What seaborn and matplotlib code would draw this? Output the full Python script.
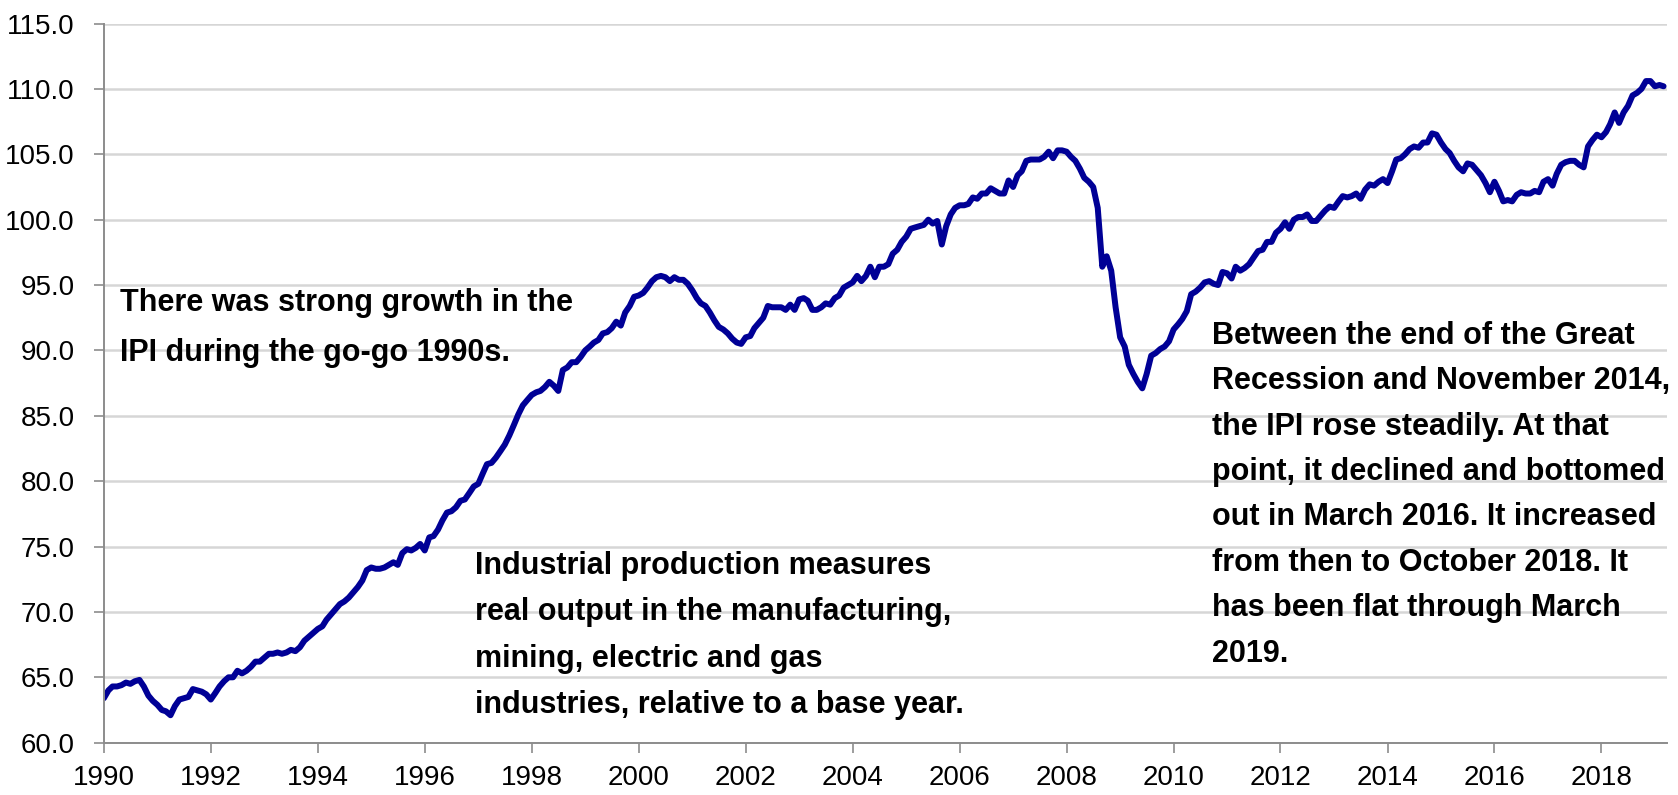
import matplotlib
matplotlib.use("Agg")
import matplotlib.pyplot as plt
import matplotlib.dates as mdates
from matplotlib import font_manager
import numpy as np
import pandas as pd
import seaborn as sns

# ---------------- data (monthly Industrial Production Index) ----------------
start_month = "1990-01"
ipi_1990 = [63.4, 64.0, 64.3, 64.3, 64.4, 64.6, 64.5, 64.7, 64.8, 64.3, 63.6, 63.2]
ipi_1991 = [62.9, 62.5, 62.4, 62.1, 62.8, 63.3, 63.4, 63.5, 64.1, 64.0, 63.9, 63.7]
ipi_1992 = [63.3, 63.8, 64.3, 64.7, 65.0, 65.0, 65.5, 65.3, 65.5, 65.8, 66.2, 66.2]
ipi_1993 = [66.5, 66.8, 66.8, 66.9, 66.8, 66.9, 67.1, 67.0, 67.3, 67.8, 68.1, 68.4]
ipi_1994 = [68.7, 68.9, 69.4, 69.8, 70.2, 70.6, 70.8, 71.1, 71.5, 71.9, 72.4, 73.2]
ipi_1995 = [73.4, 73.3, 73.3, 73.4, 73.6, 73.8, 73.6, 74.5, 74.8, 74.7, 74.9, 75.2]
ipi_1996 = [74.7, 75.7, 75.8, 76.3, 77.0, 77.6, 77.7, 78.0, 78.5, 78.6, 79.1, 79.6]
ipi_1997 = [79.8, 80.6, 81.3, 81.4, 81.8, 82.3, 82.8, 83.5, 84.3, 85.1, 85.8, 86.2]
ipi_1998 = [86.6, 86.8, 86.9, 87.2, 87.6, 87.3, 86.9, 88.5, 88.7, 89.1, 89.1, 89.5]
ipi_1999 = [90.0, 90.3, 90.6, 90.8, 91.3, 91.4, 91.7, 92.2, 91.9, 92.9, 93.4, 94.1]
ipi_2000 = [94.2, 94.4, 94.8, 95.3, 95.6, 95.7, 95.6, 95.3, 95.6, 95.4, 95.4, 95.1]
ipi_2001 = [94.6, 94.0, 93.6, 93.4, 92.9, 92.3, 91.8, 91.6, 91.3, 90.9, 90.6, 90.5]
ipi_2002 = [91.0, 91.1, 91.7, 92.1, 92.5, 93.4, 93.3, 93.3, 93.3, 93.1, 93.5, 93.1]
ipi_2003 = [93.9, 94.0, 93.8, 93.1, 93.1, 93.3, 93.6, 93.5, 94.0, 94.2, 94.8, 95.0]
ipi_2004 = [95.2, 95.7, 95.3, 95.7, 96.4, 95.6, 96.4, 96.4, 96.6, 97.4, 97.7, 98.3]
ipi_2005 = [98.7, 99.3, 99.4, 99.5, 99.6, 100.0, 99.7, 99.9, 98.1, 99.5, 100.4, 100.9]
ipi_2006 = [101.1, 101.1, 101.2, 101.7, 101.6, 102.0, 102.0, 102.4, 102.2, 102.0, 102.0, 103.0]
ipi_2007 = [102.5, 103.4, 103.7, 104.5, 104.6, 104.6, 104.6, 104.8, 105.2, 104.7, 105.3, 105.3]
ipi_2008 = [105.2, 104.8, 104.5, 103.9, 103.2, 102.9, 102.5, 100.9, 96.4, 97.2, 96.1, 93.3]
ipi_2009 = [91.0, 90.3, 88.9, 88.2, 87.6, 87.1, 88.2, 89.6, 89.8, 90.1, 90.3, 90.7]
ipi_2010 = [91.6, 92.0, 92.4, 93.0, 94.3, 94.5, 94.8, 95.2, 95.3, 95.1, 95.0, 96.0]
ipi_2011 = [95.9, 95.5, 96.4, 96.1, 96.3, 96.6, 97.1, 97.6, 97.7, 98.3, 98.3, 99.0]
ipi_2012 = [99.3, 99.8, 99.3, 100.0, 100.2, 100.2, 100.4, 99.9, 99.9, 100.3, 100.7, 101.0]
ipi_2013 = [100.9, 101.4, 101.8, 101.7, 101.8, 102.0, 101.6, 102.3, 102.7, 102.6, 102.9, 103.1]
ipi_2014 = [102.8, 103.7, 104.6, 104.7, 105.0, 105.4, 105.6, 105.5, 105.9, 105.9, 106.6, 106.5]
ipi_2015 = [105.9, 105.4, 105.1, 104.5, 104.0, 103.7, 104.3, 104.2, 103.8, 103.4, 102.8, 102.1]
ipi_2016 = [102.9, 102.2, 101.4, 101.5, 101.4, 101.9, 102.1, 102.0, 102.0, 102.2, 102.1, 102.9]
ipi_2017 = [103.1, 102.6, 103.5, 104.2, 104.4, 104.5, 104.5, 104.2, 104.0, 105.6, 106.1, 106.5]
ipi_2018 = [106.3, 106.7, 107.3, 108.2, 107.4, 108.2, 108.7, 109.5, 109.7, 110.0, 110.6, 110.6]
ipi_2019 = [110.2, 110.3, 110.2]

ipi = (ipi_1990 + ipi_1991 + ipi_1992 + ipi_1993 + ipi_1994 + ipi_1995 + ipi_1996
       + ipi_1997 + ipi_1998 + ipi_1999 + ipi_2000 + ipi_2001 + ipi_2002 + ipi_2003
       + ipi_2004 + ipi_2005 + ipi_2006 + ipi_2007 + ipi_2008 + ipi_2009 + ipi_2010
       + ipi_2011 + ipi_2012 + ipi_2013 + ipi_2014 + ipi_2015 + ipi_2016 + ipi_2017
       + ipi_2018 + ipi_2019)

y_ticks = [60.0, 65.0, 70.0, 75.0, 80.0, 85.0, 90.0, 95.0, 100.0, 105.0, 110.0, 115.0]

note_1990s = "There was strong growth in the\nIPI during the go-go 1990s."
note_def = ("Industrial production measures\nreal output in the manufacturing,\n"
            "mining, electric and gas\nindustries, relative to a base year.")
note_recent = ("Between the end of the Great\nRecession and November 2014,\n"
               "the IPI rose steadily. At that\npoint, it declined and bottomed\n"
               "out in March 2016. It increased\nfrom then to October 2018. It\n"
               "has been flat through March\n2019.")

df = pd.DataFrame({
    "date": pd.date_range(start_month, periods=len(ipi), freq="MS"),
    "ipi": ipi,
})

# ---------------- style ----------------
sns.set_theme(style="white")
available = {f.name for f in font_manager.fontManager.ttflist}
base_font = "Liberation Sans Narrow" if "Liberation Sans Narrow" in available else "Liberation Sans"
plt.rcParams["font.family"] = [base_font, "DejaVu Sans"]

fig = plt.figure(figsize=(16.78, 7.95), dpi=100)
ax = fig.add_axes([0.0619, 0.0658, 0.9316, 0.9046])

sns.lineplot(data=df, x="date", y="ipi", ax=ax, color="#000096", linewidth=4.3)

ax.set_ylim(60, 115)
ax.set_yticks(y_ticks)
ax.set_yticklabels([f"{v:.1f}" for v in y_ticks])
ax.set_xlim(pd.Timestamp("1990-01-01"), pd.Timestamp("2019-03-25"))
ax.xaxis.set_major_locator(mdates.YearLocator(2))
ax.xaxis.set_major_formatter(mdates.DateFormatter("%Y"))

ax.set_xlabel("")
ax.set_ylabel("")
ax.yaxis.grid(True, color="#d6d6d6", linewidth=1.8)
ax.xaxis.grid(False)
ax.set_axisbelow(True)
for side in ["top", "right"]:
    ax.spines[side].set_visible(False)
for side in ["left", "bottom"]:
    ax.spines[side].set_color("#8c8c8c")
    ax.spines[side].set_linewidth(1.4)

ax.tick_params(axis="y", which="major", direction="out", length=7, width=1.2,
               color="#8c8c8c", labelsize=20, pad=14, left=True)
ax.tick_params(axis="x", which="major", direction="out", length=7, width=1.2,
               color="#8c8c8c", labelsize=20, pad=9, bottom=True)
for lab in ax.get_xticklabels() + ax.get_yticklabels():
    lab.set_color("black")

txt_kw = dict(transform=ax.transAxes, fontsize=22, fontweight="bold",
              color="black", ha="left", va="top")
ax.text(0.0104, 0.6322, note_1990s, linespacing=1.86, **txt_kw)
ax.text(0.2375, 0.2670, note_def, linespacing=1.72, **txt_kw)
ax.text(0.7087, 0.5868, note_recent, linespacing=1.67, **txt_kw)

fig.savefig("out.png", dpi=100)
